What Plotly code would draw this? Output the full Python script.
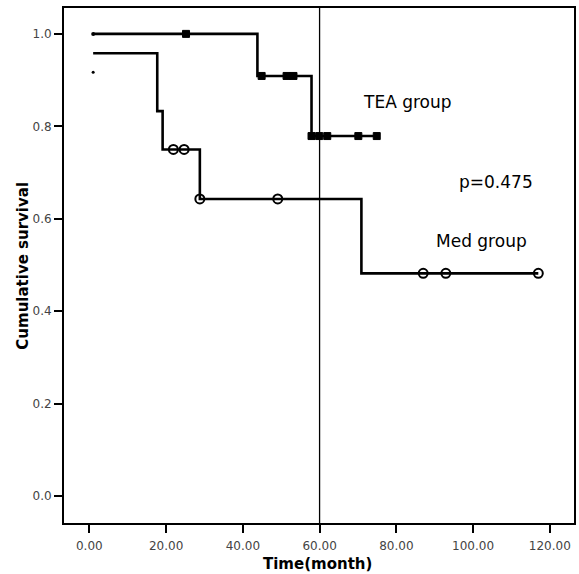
import plotly.graph_objects as go

# Kaplan-Meier step curves (time in months, cumulative survival)
tea_times = [1.0, 43.8, 57.9, 74.9]
tea_surv = [1.0, 0.909, 0.779, 0.779]
tea_cens_t = [25.2, 44.9, 51.4, 53.2, 57.9, 59.9, 62.0, 70.1, 74.9]
tea_cens_s = [1.0, 0.909, 0.909, 0.909, 0.779, 0.779, 0.779, 0.779, 0.779]

med_times = [1.0, 17.7, 19.1, 28.8, 70.9, 117.0]
med_surv = [0.958, 0.833, 0.75, 0.643, 0.482, 0.482]
med_cens_t = [21.9, 24.7, 28.8, 49.1, 87.0, 92.9, 117.0]
med_cens_s = [0.75, 0.75, 0.643, 0.643, 0.482, 0.482, 0.482]
med_extra_t = [1.0]
med_extra_s = [0.917]

x_ticks = [0, 20, 40, 60, 80, 100, 120]
x_tick_labels = ["0.00", "20.00", "40.00", "60.00", "80.00", "100.00", "120.00"]
y_ticks = [0.0, 0.2, 0.4, 0.6, 0.8, 1.0]
y_tick_labels = ["0.0", "0.2", "0.4", "0.6", "0.8", "1.0"]
ref_time = 60

FONT = "DejaVu Sans"

fig = go.Figure()
fig.add_trace(go.Scatter(x=tea_times, y=tea_surv, mode="lines", line=dict(color="black", width=2.6, shape="hv"),
                         hoverinfo="skip"))
fig.add_trace(go.Scatter(x=med_times, y=med_surv, mode="lines", line=dict(color="black", width=2.6, shape="hv"),
                         hoverinfo="skip"))
fig.add_trace(go.Scatter(x=tea_cens_t, y=tea_cens_s, mode="markers",
                         marker=dict(symbol="square", size=7, color="black", line=dict(color="black", width=1))))
fig.add_trace(go.Scatter(x=med_cens_t, y=med_cens_s, mode="markers",
                         marker=dict(symbol="circle-open", size=9, color="black", line=dict(color="black", width=2))))
fig.add_trace(go.Scatter(x=[tea_times[0]], y=[tea_surv[0]], mode="markers",
                         marker=dict(symbol="circle", size=4, color="black")))
fig.add_trace(go.Scatter(x=med_extra_t, y=med_extra_s, mode="markers",
                         marker=dict(symbol="circle", size=3, color="black")))

fig.add_shape(type="line", x0=ref_time, x1=ref_time, y0=0, y1=1, xref="x", yref="paper",
              line=dict(color="black", width=1.3))

ann_font = dict(family=FONT, size=17, color="black")
fig.add_annotation(x=83.0, y=0.852, xref="x", yref="y", text="TEA group", showarrow=False, font=ann_font)
fig.add_annotation(x=106.0, y=0.68, xref="x", yref="y", text="p=0.475", showarrow=False, font=ann_font)
fig.add_annotation(x=102.3, y=0.551, xref="x", yref="y", text="Med group", showarrow=False, font=ann_font)

# axis titles as annotations for precise placement
title_font = dict(family=FONT, size=15, color="black", weight="bold")
fig.add_annotation(x=0.498, y=-0.080, xref="paper", yref="paper", text="Time(month)", showarrow=False,
                   font=title_font, yanchor="middle")
fig.add_annotation(x=-0.082, y=0.5, xref="paper", yref="paper", text="Cumulative survival", showarrow=False,
                   font=title_font, textangle=-90, xanchor="center")

fig.update_layout(
    width=579, height=574,
    margin=dict(l=64, r=5, t=8, b=51, autoexpand=False),
    paper_bgcolor="white", plot_bgcolor="white",
    showlegend=False,
    font=dict(family=FONT),
    xaxis=dict(range=[-6.6, 126.3], tickvals=x_ticks, ticktext=x_tick_labels, automargin=False,
               ticks="outside", ticklen=8, tickwidth=2, tickcolor="black", ticklabelstandoff=3,
               showline=True, linewidth=2, linecolor="black", mirror=True,
               showgrid=False, zeroline=False,
               tickfont=dict(family=FONT, size=12, color="#444444")),
    yaxis=dict(range=[-0.058, 1.056], tickvals=y_ticks, ticktext=y_tick_labels, automargin=False,
               ticks="outside", ticklen=8, tickwidth=2, tickcolor="black",
               showline=True, linewidth=2, linecolor="black", mirror=True,
               showgrid=False, zeroline=False,
               tickfont=dict(family=FONT, size=12, color="#444444")),
)

fig.write_html("out.html", config={"displayModeBar": False},
               post_script="document.body.style.margin='0';document.body.style.overflow='hidden';")
